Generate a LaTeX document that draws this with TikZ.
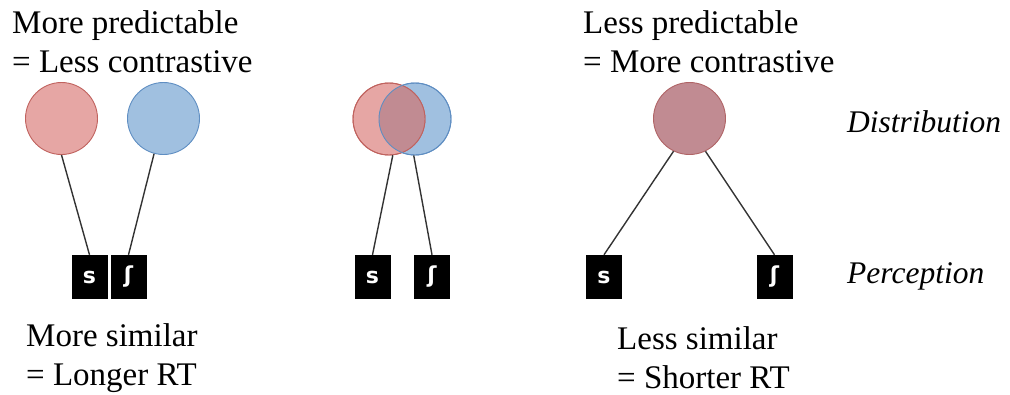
\documentclass[tikz,border=0pt]{standalone}
\usepackage{fontspec}
\setmainfont{Liberation Serif}
\newfontfamily\ipafont{DejaVu Sans}
\definecolor{pinkfill}{HTML}{E6A6A4}
\definecolor{pinkline}{HTML}{C0625E}
\definecolor{bluefill}{HTML}{A0C0E0}
\definecolor{blueline}{HTML}{5F8EC2}
\definecolor{mauvefill}{HTML}{C18B92}
\definecolor{mauveline}{HTML}{B06466}
\definecolor{tiegray}{HTML}{333333}

\begin{document}
\begin{tikzpicture}[x=1pt,y=-1pt]
\tikzstyle{dist}=[circle, minimum size=72pt, inner sep=0pt, line width=0.9pt]
\tikzstyle{reddist}=[dist, draw=pinkline, fill=pinkfill]
\tikzstyle{bluedist}=[dist, draw=blueline, fill=bluefill]
\tikzstyle{mixdist}=[dist, draw=mauveline, fill=mauvefill]
\tikzstyle{seg}=[fill=black, minimum width=36pt, minimum height=44pt, inner sep=0pt, text=white, font=\ipafont\bfseries\fontsize{22}{22}\selectfont]
\tikzstyle{tie}=[draw=tiegray, line width=1.4pt]
\tikzstyle{caption}=[anchor=base west, align=left, inner sep=0pt, font=\fontsize{33}{39}\selectfont]
\tikzstyle{level}=[anchor=base west, inner sep=0pt, font=\itshape\fontsize{31.5}{36}\selectfont]
\useasboundingbox (0,0) rectangle (1010,394);

% left panel
\node[reddist] (sA) at (61.5,118.5) {};
\node[bluedist] (shA) at (163.5,118.5) {};
\node[seg] (segsA) at (89.5,277) {s};
\node[seg] (segshA) at (128.5,277) {ʃ};
\draw[tie] (sA.270) -- (segsA.north);
\draw[tie] (shA.255) -- (segshA.north);

% middle panel
\node[bluedist] (shB) at (415,119) {};
\node[reddist] (sB) at (389,119) {};
\begin{scope}
\clip (sB) circle (36pt);
\fill[mauvefill] (shB) circle (36pt);
\end{scope}
\draw[pinkline, line width=0.9pt] (sB) circle (36pt);
\draw[blueline, line width=0.9pt] (shB) circle (36pt);
\node[seg] (segsB) at (372.5,277) {s};
\node[seg] (segshB) at (432,277) {ʃ};
\draw[tie] (sB.276) -- (segsB.north);
\draw[tie] (shB.268) -- (segshB.north);

% right panel
\node[mixdist] (sC) at (689.5,118.5) {};
\node[seg] (segsC) at (604,277) {s};
\node[seg] (segshC) at (774.5,277) {ʃ};
\draw[tie] (sC.244) -- (segsC.north);
\draw[tie] (sC.296) -- (segshC.north);

% captions (base = last line)
\node[caption] (topL) at (12,72) {More predictable\\= Less contrastive};
\node[caption] (topR) at (583,72) {Less predictable\\= More contrastive};
\node[caption] (botL) at (26,385) {More similar\\= Longer RT};
\node[caption] (botR) at (617,388) {Less similar\\= Shorter RT};
\node[level] (distr) at (847,132) {Distribution};
\node[level] (perc) at (847,283) {Perception};
\end{tikzpicture}
\end{document}
